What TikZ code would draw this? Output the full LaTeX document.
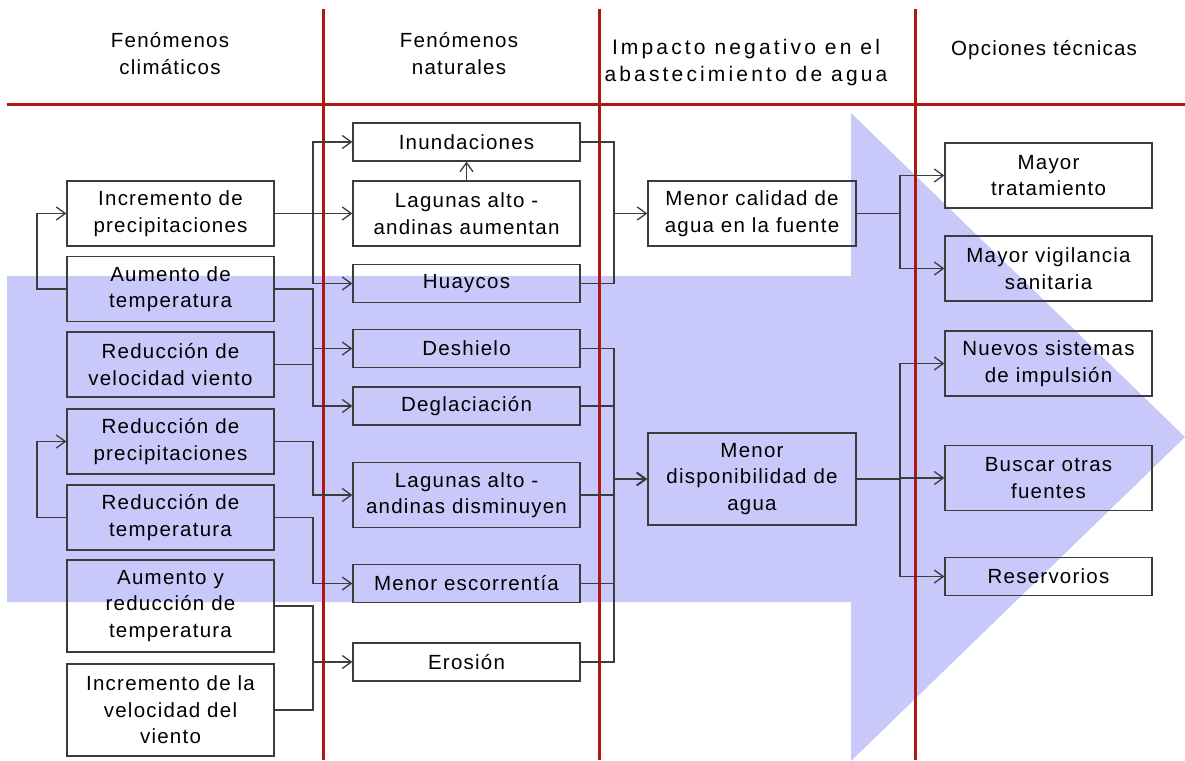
\documentclass[tikz,border=0pt]{standalone}
\usepackage{fontspec}
\setmainfont{Liberation Sans}[LetterSpace=6]
\usetikzlibrary{arrows.meta}
\definecolor{arrowblue}{RGB}{200,200,250}
\definecolor{linered}{RGB}{180,20,20}
\definecolor{boxgray}{RGB}{60,60,60}

\begin{document}
\begin{tikzpicture}[x=1pt,y=-1pt,
  box/.style={draw=boxgray,line width=1.3pt,align=center,inner sep=0pt,minimum width=207pt,minimum height=65pt,font=\fontsize{20.5}{26.5}\selectfont},
  wide/.style={box,minimum width=227pt},
  low/.style={minimum height=38pt},
  tall/.style={minimum height=92pt},
  head/.style={align=center,font=\fontsize{20.5}{27}\selectfont},
  link/.style={draw=boxgray,line width=1.3pt},
  arr/.style={link,-{Straight Barb[length=9pt,width=13pt]}},
  redrule/.style={draw=linered,line width=3pt}]
\useasboundingbox (0,0) rectangle (1185,760);
\fill[arrowblue] (7,276) -- (851,276) -- (851,113) -- (1185,437) -- (851,761) -- (851,602) -- (7,602) -- cycle;
\draw[redrule] (7,104) -- (1185,104);
\draw[redrule] (323,9) -- (323,760);
\draw[redrule] (599,9) -- (599,760);
\draw[redrule] (915,9) -- (915,760);

\draw (170,54) node[head](hclim) {Fenómenos\\climáticos};
\draw (459,54) node[head](hnat) {Fenómenos\\naturales};
\draw (746,63) node[head,font=\fontsize{21}{27}\selectfont\addfontfeatures{LetterSpace=15}](himp) {Impacto negativo en el\\abastecimiento de agua};
\draw (1044,50) node[head](hopc) {Opciones técnicas};

\draw (170.5,213.5) node[box](incprec) {Incremento de\\precipitaciones};
\draw (170.5,289) node[box](aumtemp) {Aumento de\\temperatura};
\draw (170.5,364.5) node[box](redvel) {Reducción de\\velocidad viento};
\draw (170.5,441.5) node[box](redprec) {Reducción de\\precipitaciones};
\draw (170.5,517.5) node[box](redtemp) {Reducción de\\temperatura};
\draw (170.5,606) node[box,tall](aumred) {Aumento y\\reducción de\\temperatura};
\draw (170.5,710) node[box,tall](incvel) {Incremento de la\\velocidad del\\viento};

\draw (466.5,142) node[wide,low](inund) {Inundaciones};
\draw (466.5,213.5) node[wide](lagaum) {Lagunas alto -\\andinas aumentan};
\draw (466.5,283.5) node[wide,low](huay) {Huaycos};
\draw (466.5,348.5) node[wide,low](deshi) {Deshielo};
\draw (466.5,406) node[wide,low](deglac) {Deglaciación};
\draw (466.5,495) node[wide](lagdis) {Lagunas alto -\\andinas disminuyen};
\draw (466.5,583.5) node[wide,low](escor) {Menor escorrentía};
\draw (466.5,662) node[wide,low](eros) {Erosión};

\draw (752,213.5) node[box,minimum width=208pt](calid) {Menor calidad de\\agua en la fuente};
\draw (752,479) node[box,minimum width=208pt,tall](dispo) {Menor\\disponibilidad de\\agua};

\draw (1048.5,175.5) node[box](trat) {Mayor\\tratamiento};
\draw (1048.5,268.5) node[box](vigil) {Mayor vigilancia\\sanitaria};
\draw (1048.5,363.5) node[box](nuev) {Nuevos sistemas\\de impulsión};
\draw (1048.5,478) node[box](busc) {Buscar otras\\fuentes};
\draw (1048.5,576.5) node[box,low](reserv) {Reservorios};

\coordinate (jl) at (37,0);
\coordinate (ja) at (313,0);
\coordinate (jc) at (614,0);
\coordinate (jd) at (900,0);

\draw[arr] (aumtemp.west) -- (aumtemp.west -| jl) |- (incprec.west);
\draw[arr] (redtemp.west) -- (redtemp.west -| jl) |- (redprec.west);

\draw[arr] (incprec.east) -- (lagaum.west);
\draw[arr] (incprec.east -| ja) |- (inund.west);
\draw[arr] (incprec.east -| ja) |- (huay.west);
\draw[arr] (aumtemp.east) -- (aumtemp.east -| ja) |- (deglac.west);
\draw[link] (redvel.east) -- (redvel.east -| ja);
\draw[arr] (deshi.west -| ja) -- (deshi.west);
\draw[arr] (redprec.east) -- (redprec.east -| ja) |- (lagdis.west);
\draw[arr] (redtemp.east) -- (redtemp.east -| ja) |- (escor.west);
\draw[link] (aumred.east) -- (aumred.east -| ja) -- (incvel.east -| ja) -- (incvel.east);
\draw[arr] (eros.west -| ja) -- (eros.west);
\draw[arr] (lagaum.north) -- (inund.south);

\draw[link] (inund.east) -- (inund.east -| jc) -- (huay.east -| jc) -- (huay.east);
\draw[arr] (calid.west -| jc) -- (calid.west);
\draw[link] (deshi.east) -- (deshi.east -| jc) -- (eros.east -| jc) -- (eros.east);
\draw[link] (deglac.east) -- (deglac.east -| jc);
\draw[link] (lagdis.east) -- (lagdis.east -| jc);
\draw[link] (escor.east) -- (escor.east -| jc);
\draw[arr,line width=2pt] (dispo.west -| jc) -- (dispo.west);

\draw[link] (calid.east) -- (calid.east -| jd);
\draw[arr] (calid.east -| jd) |- (trat.west);
\draw[arr] (calid.east -| jd) |- (vigil.west);
\draw[link] (dispo.east) -- (dispo.east -| jd);
\draw[arr] (dispo.east -| jd) |- (nuev.west);
\draw[arr] (busc.west -| jd) -- (busc.west);
\draw[arr] (dispo.east -| jd) |- (reserv.west);
\end{tikzpicture}
\end{document}
